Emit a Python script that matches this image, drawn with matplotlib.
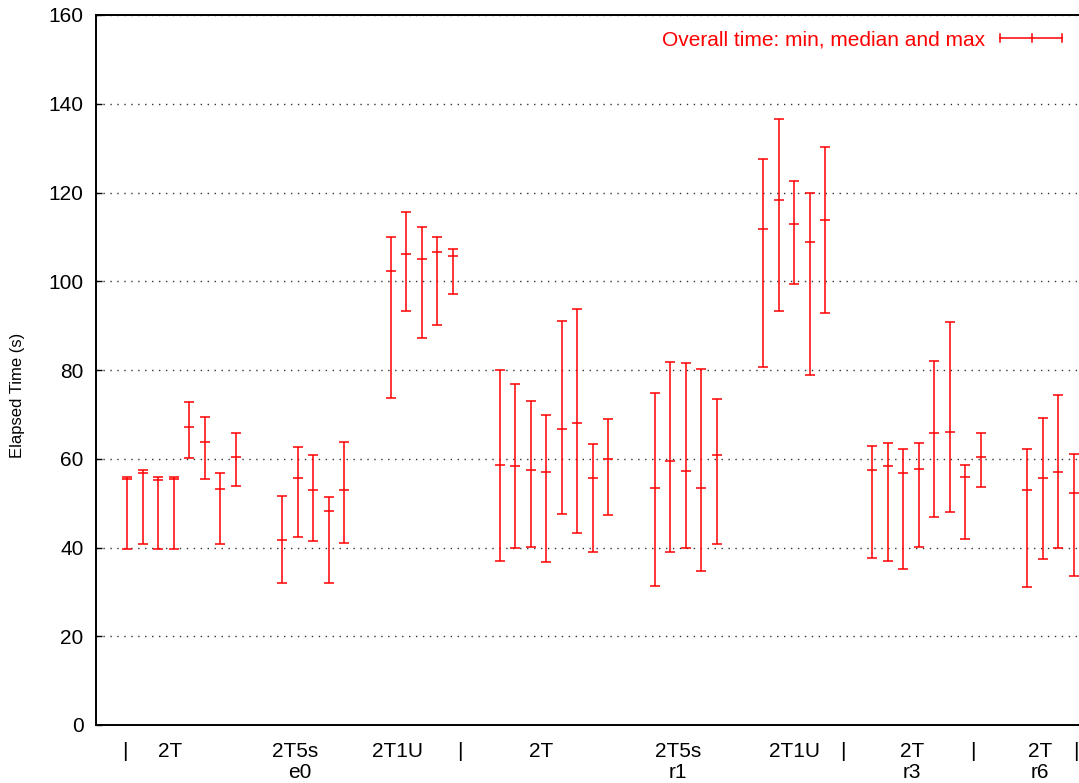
import matplotlib
matplotlib.use("Agg")
import matplotlib.pyplot as plt
import matplotlib.transforms as mtransforms
from matplotlib.lines import Line2D
from matplotlib import font_manager

plt.rcParams['font.family'] = ['Liberation Sans', 'DejaVu Sans']

# ---- data: bar index, min, median, max (elapsed time in s) ----
g1_idx = [0, 1, 2, 3, 4, 5, 6, 7]
g1_min = [39.7, 40.8, 39.7, 39.7, 60.2, 55.4, 40.8, 53.9]
g1_med = [55.5, 56.9, 55.1, 55.5, 67.1, 63.8, 53.1, 60.4]
g1_max = [56.0, 57.4, 56.0, 56.0, 72.9, 69.5, 56.7, 65.7]

g2_idx = [10, 11, 12, 13, 14]
g2_min = [32.0, 42.4, 41.5, 32.0, 41.1]
g2_med = [41.7, 55.7, 53.0, 48.2, 52.9]
g2_max = [51.5, 62.7, 60.9, 51.3, 63.7]

g3_idx = [17, 18, 19, 20, 21]
g3_min = [73.6, 93.2, 87.1, 90.1, 97.2]
g3_med = [102.3, 106.2, 105.1, 106.7, 105.8]
g3_max = [109.9, 115.7, 112.3, 109.9, 107.2]

g4_idx = [24, 25, 26, 27, 28, 29, 30, 31]
g4_min = [36.9, 39.8, 40.2, 36.7, 47.6, 43.3, 38.9, 47.4]
g4_med = [58.7, 58.4, 57.5, 57.1, 66.6, 68.1, 55.6, 59.9]
g4_max = [79.9, 76.9, 73.1, 69.9, 91.0, 93.7, 63.4, 69.0]

g5_idx = [34, 35, 36, 37, 38]
g5_min = [31.3, 39.0, 39.9, 34.6, 40.7]
g5_med = [53.3, 59.6, 57.3, 53.4, 60.8]
g5_max = [74.8, 81.7, 81.6, 80.2, 73.5]

g6_idx = [41, 42, 43, 44, 45]
g6_min = [80.7, 93.3, 99.3, 78.8, 92.9]
g6_med = [111.7, 118.2, 112.8, 108.8, 113.8]
g6_max = [127.6, 136.6, 122.5, 119.8, 130.2]

g7_idx = [48, 49, 50, 51, 52, 53, 54, 55]
g7_min = [37.6, 37.0, 35.2, 40.2, 46.9, 48.0, 41.9, 53.7]
g7_med = [57.4, 58.4, 56.9, 57.6, 65.9, 66.1, 55.9, 60.4]
g7_max = [62.9, 63.6, 62.3, 63.5, 82.1, 90.8, 58.7, 65.7]

g8_idx = [58, 59, 60, 61]
g8_min = [31.2, 37.4, 40.0, 33.5]
g8_med = [52.9, 55.6, 57.0, 52.2]
g8_max = [62.3, 69.2, 74.4, 61.1]

groups = [
    (g1_idx, g1_min, g1_med, g1_max),
    (g2_idx, g2_min, g2_med, g2_max),
    (g3_idx, g3_min, g3_med, g3_max),
    (g4_idx, g4_min, g4_med, g4_max),
    (g5_idx, g5_min, g5_med, g5_max),
    (g6_idx, g6_min, g6_med, g6_max),
    (g7_idx, g7_min, g7_med, g7_max),
    (g8_idx, g8_min, g8_med, g8_max),
]

# x labels (two rows)
row1_labels = ['|', '2T', '2T5s', '2T1U', '|', '2T', '2T5s', '2T1U', '|', '2T', '|', '2T', '|']
row1_pos = [-0.15, 2.8, 10.8, 17.45, 21.45, 26.7, 35.5, 43.0, 46.15, 50.56, 54.5, 58.8, 61.15]
row2_labels = ['e0', 'r1', 'r3', 'r6']
row2_pos = [11.16, 35.5, 50.56, 58.8]

legend_label = 'Overall time: min, median and max'
ylabel = 'Elapsed Time (s)'

# ---- figure ----
W, H = 1079, 783
fig = plt.figure(figsize=(W / 100, H / 100), dpi=100)
ax_left, ax_right, ax_top, ax_bottom = 96, 1089.3, 15, 725
ax = fig.add_axes([ax_left / W, 1 - ax_bottom / H, (ax_right - ax_left) / W, (ax_bottom - ax_top) / H])

red = '#ff0000'
for idx, mn, md, mx in groups:
    lower = [m - a for m, a in zip(md, mn)]
    upper = [b - m for m, b in zip(md, mx)]
    ax.errorbar(idx, md, yerr=[lower, upper], fmt='none', ecolor=red,
                elinewidth=1.1, capsize=3.6, capthick=1.1, zorder=3)
    ax.plot(idx, md, linestyle='none', marker='_', markersize=7.5,
            markeredgewidth=1.1, color=red, zorder=3)

ax.set_xlim(-2, 62)
ax.set_ylim(0, 160)
ax.set_yticks(range(0, 161, 20))
ax.tick_params(axis='y', direction='in', length=4.5, width=1, labelsize=15, pad=9)
ax.set_xticks([])
ax.yaxis.grid(True, linestyle=(0, (1, 4)), color='#333333', linewidth=1.0)
ax.set_axisbelow(True)
for s in ['left', 'top', 'bottom']:
    ax.spines[s].set_linewidth(1.4)
ax.spines['right'].set_visible(False)

names = {f.name for f in font_manager.fontManager.ttflist}
if 'Liberation Sans Narrow' in names:
    yl_family, yl_size = ['Liberation Sans Narrow', 'DejaVu Sans'], 14
else:
    yl_family, yl_size = ['Liberation Sans', 'DejaVu Sans'], 12
fig.text(18 / W, 1 - 395 / H, ylabel, rotation=90, ha='center', va='center',
         fontsize=yl_size, family=yl_family)

trans = mtransforms.blended_transform_factory(ax.transData, fig.transFigure)
for lab, p in zip(row1_labels, row1_pos):
    ax.text(p, 1 - 757 / H, lab, transform=trans, ha='center', va='baseline', fontsize=15, clip_on=False)
for lab, p in zip(row2_labels, row2_pos):
    ax.text(p, 1 - 778 / H, lab, transform=trans, ha='center', va='baseline', fontsize=15, clip_on=False)

# legend (gnuplot style: text then sample)
fig.text(985 / W, 1 - 45 / H, legend_label, color=red, ha='right', va='baseline', fontsize=15)
ly = 1 - 37.7 / H
lx0, lx1, lxm = 1000 / W, 1062 / W, 1031.5 / W
ch = 4 / H
for seg in [([lx0, lx1], [ly, ly]), ([lx0, lx0], [ly - ch, ly + ch]),
            ([lx1, lx1], [ly - ch, ly + ch]), ([lxm, lxm], [ly - ch, ly + ch])]:
    fig.add_artist(Line2D(seg[0], seg[1], color=red, linewidth=1.1, transform=fig.transFigure))

fig.savefig('out.png', dpi=100)
